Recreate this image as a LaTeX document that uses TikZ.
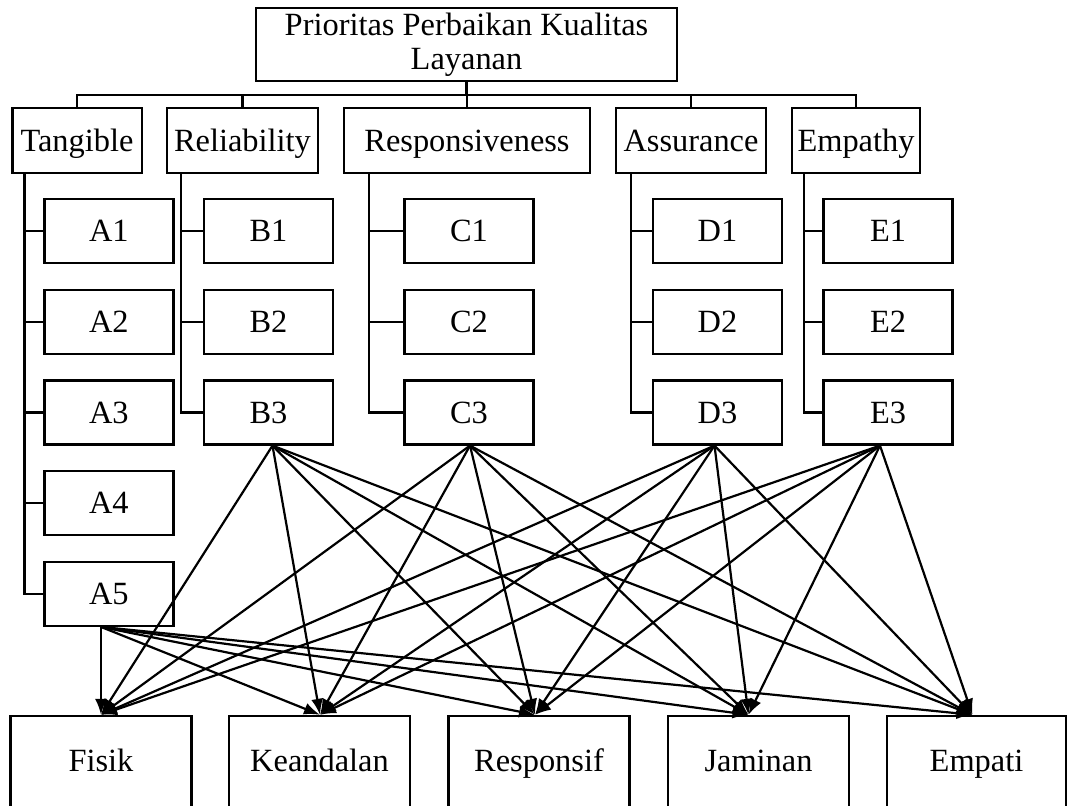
\documentclass[tikz,border=0pt]{standalone}
\usepackage{fontspec}
\setmainfont{Liberation Serif}
\usetikzlibrary{calc,arrows.meta}
\begin{document}
\begin{tikzpicture}[x=0.5pt,y=-0.5pt,
  box/.style={draw,line width=1.2pt,inner sep=0pt,align=center,
    font=\fontsize{16.2}{16.85}\selectfont},
  one/.style={box,text height=12pt,text depth=1.4pt},
  sub/.style={one,minimum width=64.5pt,minimum height=32pt},
  cat/.style={one,minimum height=32.5pt},
  res/.style={box,text height=12pt,text depth=6.4pt,minimum width=90.5pt,minimum height=50pt},
  tree/.style={line width=1.2pt},
  arr/.style={line width=1.1pt,-{Latex[length=8pt,width=6pt]}}]
\clip (0,0) rectangle (1067,805);
% top
\node[box,minimum width=210.5pt,minimum height=36.5pt] (top) at (466.5,44.5)
  {Prioritas Perbaikan Kualitas\\Layanan};
% categories
\node[cat,minimum width=64.7pt] (tan) at (77,140.5) {Tangible};
\node[cat,minimum width=75.7pt] (rel) at (242.4,140.5) {Reliability};
\node[cat,minimum width=123pt] (rsp) at (467,140.5) {Responsiveness};
\node[cat,minimum width=75pt] (asr) at (691,140.5) {Assurance};
\node[cat,minimum width=64pt] (emp) at (856,140.5) {Empathy};
% sub items
\foreach \n/\x in {A/108.8,B/268.5,C/469,D/717.5,E/888}{
  \foreach \i/\y in {1/231,2/321.7,3/412.4}{
    \node[sub] (\n\i) at (\x,\y) {\n\i};
  }
}
\node[sub] (A4) at (108.8,503) {A4};
\node[sub] (A5) at (108.8,593.7) {A5};
% results
\node[res] (fis) at (101,766) {Fisik};
\node[res] (kea) at (319.5,766) {Keandalan};
\node[res] (rsf) at (539,766) {Responsif};
\node[res] (jam) at (758.5,766) {Jaminan};
\node[res,minimum width=89.5pt] (ept) at (976.5,766) {Empati};
% tree
\coordinate (bus) at (467,95);
\draw[tree] (top.south) -- (top.south |- bus);
\draw[tree] (tan.north) -- (tan.north |- bus) -- (emp.north |- bus) -- (emp.north);
\foreach \c in {rel,rsp,asr}{\draw[tree] (\c.north) -- (\c.north |- bus);}
\foreach \i in {1,...,5}{\draw[tree] ($(tan.south west)+(13.4,0)$) |- (A\i.west);}
\foreach \i in {1,2,3}{
  \draw[tree] ($(rel.south west)+(15.3,0)$) |- (B\i.west);
  \draw[tree] ($(rsp.south west)+(26,0)$) |- (C\i.west);
  \draw[tree] ($(asr.south west)+(16,0)$) |- (D\i.west);
  \draw[tree] ($(emp.south west)+(13,0)$) |- (E\i.west);
}
% arrows
\foreach \s/\o in {B3/4,C3/1,D3/-3,E3/-8,A5/-7.8}{
  \draw[arr] ($(\s.south)+(\o,0)$) -- ($(fis.north)+(0,0)$);
  \draw[arr] ($(\s.south)+(\o,0)$) -- ($(kea.north)+(0.5,0)$);
  \draw[arr] ($(\s.south)+(\o,0)$) -- ($(rsf.north)+(-4,0)$);
  \draw[arr] ($(\s.south)+(\o,0)$) -- ($(jam.north)+(-10,0)$);
  \draw[arr] ($(\s.south)+(\o,0)$) -- ($(ept.north)+(-4,0)$);
}
\end{tikzpicture}
\end{document}
